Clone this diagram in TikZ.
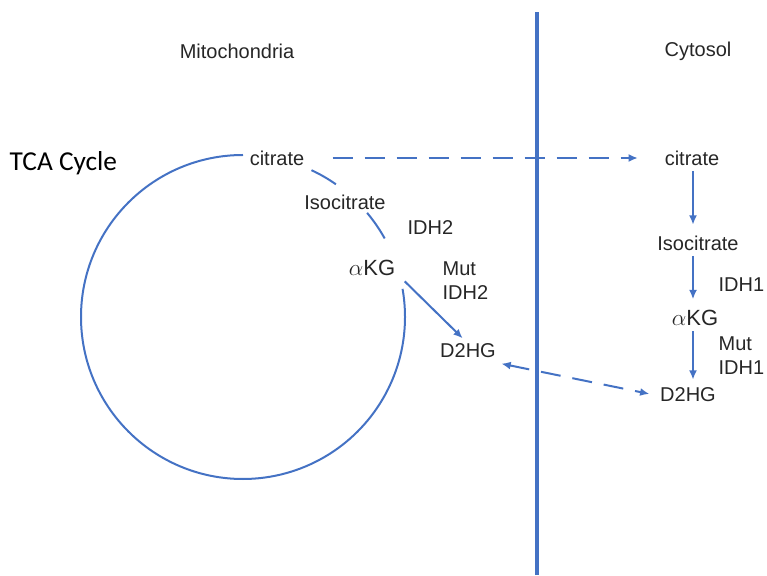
\documentclass[tikz,border=0pt]{standalone}
\usepackage{fontspec}
\setmainfont{Liberation Sans}
\newfontfamily\calibrifont{Carlito}
\usetikzlibrary{arrows.meta,positioning,calc}
\definecolor{cycblue}{HTML}{4472C4}
\tikzstyle{lbl} = [inner sep=4pt, text=black!85, font=\fontsize{15}{18}\selectfont]
\tikzstyle{met} = [lbl, font=\fontsize{16.5}{19}\selectfont]
\tikzstyle{enz} = [lbl, anchor=west, align=left]
\tikzstyle{cyc} = [draw, cycblue, line width=1.5pt]
\tikzstyle{line} = [draw, cycblue, line width=1.5pt, -{Latex[length=7pt,width=6pt]}]
\tikzstyle{transport} = [line, dash pattern=on 15pt off 9pt]

\begin{document}
\begin{tikzpicture}[x=0.75pt, y=0.75pt]
    \useasboundingbox (0,0) rectangle (767,575);
    % Compartments
    \node [lbl] (mito) at (237,524) {Mitochondria};
    \node [lbl] (cyto) at (698,524) {Cytosol};
    \draw [cycblue, line width=3pt] (537,0) -- (537,563);
    \node [anchor=west, font=\calibrifont\fontsize{20.5}{24}\selectfont] (tca) at (5,412) {TCA Cycle};

    % Mitochondria
    \coordinate (cc) at (243,258);
    \node [lbl] (citm) at (277,417) {citrate};
    \node [lbl] (isom) at (345,373) {Isocitrate};
    \node [enz] (idhm) at (402,347) {IDH2};
    \node [met] (akgm) at (372,307) {$\alpha$KG};
    \node [enz] (mutm) at (437,294) {Mut\\IDH2};
    \node [lbl] (d2hm) at (468,224) {D2HG};

    % Cytosol
    \node [lbl] (citc) at (692,417) {citrate};
    \node [lbl] (isoc) at (698,332) {Isocitrate};
    \node [enz] (idhc) at (713,290) {IDH1};
    \node [met] (akgc) at (695,257) {$\alpha$KG};
    \node [enz] (mutc) at (713,219.5) {Mut\\IDH1};
    \node [lbl] (d2hc) at (688,180) {D2HG};

    % Cycle
    \draw [cyc] (cc) ++(90:162) arc [start angle=90, end angle=370, radius=121.5pt];
    \draw [cyc] (cc) ++(65:162) arc [start angle=65, end angle=55, radius=121.5pt];
    \draw [cyc] (cc) ++(40:162) arc [start angle=40, end angle=29, radius=121.5pt];

    % Paths
    \path [line] ([xshift=3pt]akgm.south east) -- ([xshift=-4pt]d2hm.north);
    \path [line, shorten >=4pt] (citc.south -| 693,0) -- (isoc.north -| 693,0);
    \path [line, shorten >=4pt] (isoc.south -| 693,0) -- (akgc.north -| 693,0);
    \path [line, shorten >=2pt] (akgc.south -| 693,0) -- (d2hc.north -| 693,0);
    \path [transport, shorten <=17pt, shorten >=16pt] (citm.east) -- (citc.west);
    \path [transport, {Latex[length=7pt,width=6pt]}-{Latex[length=7pt,width=6pt]}, shorten >=4pt] (d2hm.south east) -- (d2hc.west);
\end{tikzpicture}
\end{document}
